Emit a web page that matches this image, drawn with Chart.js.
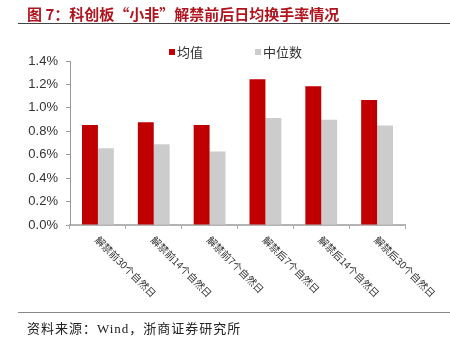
<!DOCTYPE html>
<html>
<head>
    <meta charset="utf-8">
    <title>科创板“小非”解禁前后日均换手率情况</title>
    <script src="https://cdn.jsdelivr.net/npm/chart.js"></script>
    <style>
        body { margin: 0; background: #fff; }
        .wrap { position: relative; width: 450px; height: 345px; overflow: hidden; }
        .title {
            position: absolute; left: 27px; top: 3px;
            font: bold 15px "Noto Sans CJK SC", sans-serif;
            color: #b0141e; white-space: pre;
        }
        .rule-top { position: absolute; left: 18px; right: 0; top: 23px; border-top: 1.5px solid #444; }
        .rule-bottom { position: absolute; left: 18px; right: 0; top: 312px; border-top: 1.5px solid #888; }
        .source {
            position: absolute; left: 27px; top: 318px;
            font: 13px "Liberation Serif", "Noto Sans CJK SC", serif;
            color: #222; white-space: nowrap; letter-spacing: 1px;
        }
        #chart { position: absolute; left: 0; top: 0; }
    </style>
</head>
<body>
<div class="wrap">
    <canvas id="chart" width="450" height="345"></canvas>
    <div class="title">图 7：科创板“小非”解禁前后日均换手率情况</div>
    <div class="rule-top"></div>
    <div class="rule-bottom"></div>
    <div class="source">资料来源：Wind，浙商证券研究所</div>
</div>
<script>
    // 数据（单位：%）
    var categories = ['解禁前30个自然日', '解禁前14个自然日', '解禁前7个自然日',
                      '解禁后7个自然日', '解禁后14个自然日', '解禁后30个自然日'];
    var seriesNames = ['均值', '中位数'];
    var meanValues = [0.853, 0.878, 0.853, 1.244, 1.184, 1.067];
    var medianValues = [0.655, 0.690, 0.628, 0.913, 0.898, 0.850];
    var yTickValues = [0, 0.2, 0.4, 0.6, 0.8, 1.0, 1.2, 1.4];

    // 旋转的x轴标签（从刻度处向右下方）
    var slantLabels = {
        id: 'slantLabels',
        afterDraw: function(chart) {
            var xs = chart.scales.x;
            var ctx = chart.ctx;
            ctx.save();
            ctx.fillStyle = '#333';
            ctx.font = '10px "Noto Sans CJK SC", sans-serif';
            ctx.textAlign = 'left';
            ctx.textBaseline = 'middle';
            categories.forEach(function(label, i) {
                var x = xs.getPixelForValue(i);
                ctx.save();
                ctx.translate(x - 1, xs.top + 13);
                ctx.rotate(Math.PI / 4);
                ctx.fillText(label, 0, 0);
                ctx.restore();
            });
            ctx.restore();
        }
    };

    // 图例：小方块 + 文字，两项间距较大
    var simpleLegend = {
        id: 'simpleLegend',
        afterDraw: function(chart) {
            var ctx = chart.ctx;
            var area = chart.chartArea;
            ctx.save();
            ctx.font = '13px "Noto Sans CJK SC", sans-serif';
            ctx.textBaseline = 'middle';
            ctx.textAlign = 'left';
            var w0 = 8 + ctx.measureText(seriesNames[0]).width;
            var w1 = 8 + ctx.measureText(seriesNames[1]).width;
            var gap = 52;
            var x = (area.left + area.right) / 2 - 2 - (w0 + gap + w1) / 2;
            var y = 52;
            chart.data.datasets.forEach(function(ds, i) {
                ctx.fillStyle = ds.backgroundColor;
                ctx.fillRect(x, y - 3, 6, 6);
                ctx.fillStyle = '#333';
                ctx.fillText(ds.label, x + 8, y);
                x += (i === 0 ? w0 : w1) + gap;
            });
            ctx.restore();
        }
    };

    new Chart(document.getElementById('chart'), {
        type: 'bar',
        data: {
            labels: categories,
            datasets: [{
                label: seriesNames[0],
                data: meanValues,
                backgroundColor: '#c00000',
                categoryPercentage: 0.57,
                barPercentage: 1.0
            }, {
                label: seriesNames[1],
                data: medianValues,
                backgroundColor: '#cccccc',
                categoryPercentage: 0.57,
                barPercentage: 1.0
            }]
        },
        options: {
            responsive: false,
            animation: false,
            layout: { padding: { left: 0, right: 45, top: 61, bottom: 0 } },
            plugins: {
                tooltip: { enabled: false },
                legend: { display: false }
            },
            scales: {
                x: {
                    grid: { drawOnChartArea: false, tickLength: 4, color: '#aaa' },
                    border: { color: '#b4b4b4', width: 2 },
                    ticks: { display: false },
                    afterFit: function(s) { s.height = 120; }
                },
                y: {
                    min: 0,
                    max: 1.4,
                    grid: { drawOnChartArea: false, tickLength: 4, color: '#999' },
                    border: { color: '#999', width: 1 },
                    afterBuildTicks: function(s) {
                        s.ticks = yTickValues.map(function(v) { return { value: v }; });
                    },
                    ticks: {
                        padding: 8,
                        color: '#333',
                        font: { size: 13, family: '"Liberation Sans", Arial, sans-serif' },
                        callback: function(v) { return v.toFixed(1) + '%'; }
                    },
                    afterFit: function(s) { s.width = 70; }
                }
            }
        },
        plugins: [slantLabels, simpleLegend]
    });
</script>
</body>
</html>
